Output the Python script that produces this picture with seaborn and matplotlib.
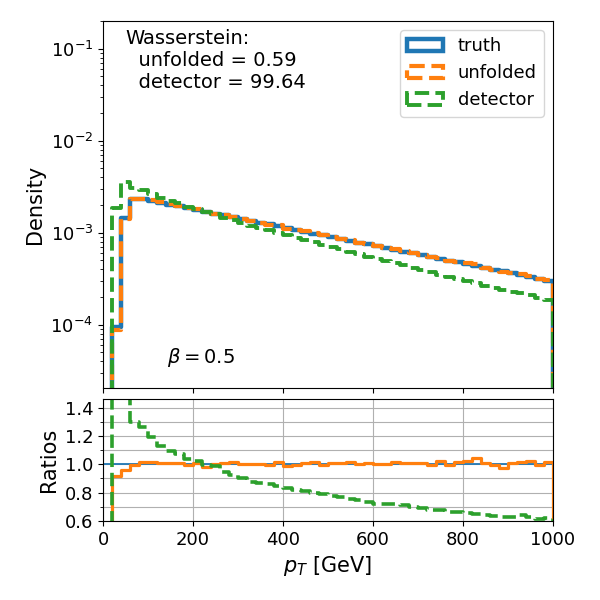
import numpy as np
import pandas as pd
import seaborn as sns
import matplotlib
matplotlib.use("Agg")
import matplotlib.pyplot as plt
from matplotlib.patches import Patch
from matplotlib.ticker import MultipleLocator

# 50 bins of 20 GeV in pT, plus one empty bin past 1000 so the step closes
bin_edges = np.linspace(0, 1020, 52)
bin_centers = 0.5 * (bin_edges[:-1] + bin_edges[1:])

# truth density per bin
truth = [0.0, 9.5e-5, 1.45e-3, 2.35e-3, 2.30e-3, 2.22e-3, 2.12e-3, 2.02e-3, 1.94e-3, 1.85e-3,
         1.77e-3, 1.69e-3, 1.61e-3, 1.54e-3, 1.47e-3, 1.41e-3, 1.35e-3, 1.29e-3, 1.23e-3, 1.18e-3,
         1.12e-3, 1.07e-3, 1.03e-3, 9.8e-4, 9.4e-4, 8.95e-4, 8.55e-4, 8.18e-4, 7.82e-4, 7.47e-4,
         7.14e-4, 6.82e-4, 6.52e-4, 6.23e-4, 5.96e-4, 5.69e-4, 5.44e-4, 5.20e-4, 4.97e-4, 4.75e-4,
         4.54e-4, 4.34e-4, 4.15e-4, 3.96e-4, 3.79e-4, 3.62e-4, 3.46e-4, 3.31e-4, 3.16e-4, 3.02e-4]

# unfolded / truth and detector / truth
unfolded_ratio = [0.0, 0.915, 0.96, 0.995, 1.018, 1.016, 1.012, 1.012, 1.012, 0.993,
                  1.012, 0.984, 1.0, 1.007, 1.016, 1.0, 1.0, 1.0, 0.993, 1.016,
                  0.988, 0.995, 1.007, 1.016, 0.995, 1.012, 1.007, 1.018, 1.0, 1.012,
                  1.0, 1.0, 1.018, 1.012, 1.012, 1.007, 0.995, 1.023, 0.995, 1.016,
                  1.023, 1.046, 1.007, 0.995, 0.975, 1.007, 1.018, 1.023, 0.995, 1.016]
detector_ratio = [0.0, 19.6, 2.48, 1.30, 1.26, 1.19, 1.13, 1.09, 1.075, 1.04,
                  1.025, 0.995, 0.99, 0.945, 0.925, 0.903, 0.875, 0.87, 0.86, 0.845,
                  0.835, 0.82, 0.81, 0.80, 0.79, 0.775, 0.77, 0.757, 0.75, 0.735,
                  0.723, 0.72, 0.722, 0.71, 0.70, 0.69, 0.68, 0.675, 0.665, 0.665,
                  0.658, 0.65, 0.642, 0.635, 0.63, 0.63, 0.642, 0.63, 0.612, 0.62]
truth_ratio = np.ones(len(truth))

unfolded = np.array(truth) * np.array(unfolded_ratio)
detector = np.array(truth) * np.array(detector_ratio)

w_unfolded = 0.59
w_detector = 99.64
beta = 0.5

colors = {"truth": "#1f77b4", "unfolded": "#ff7f0e", "detector": "#2ca02c"}


def step_hist(ax, values, color, lw, ls):
    df = pd.DataFrame({"pt": bin_centers, "w": np.append(values, 0.0)})
    sns.histplot(data=df, x="pt", weights="w", bins=list(bin_edges), stat="count",
                 element="step", fill=False, color=color, linewidth=lw,
                 linestyle=ls, ax=ax)


fig = plt.figure(figsize=(6, 6), dpi=100)
ax1 = fig.add_axes([0.1717, 0.3533, 0.75, 0.6117])
ax2 = fig.add_axes([0.1717, 0.1317, 0.75, 0.2033])

step_hist(ax1, truth, colors["truth"], 3.2, "-")
step_hist(ax1, unfolded, colors["unfolded"], 3.0, "--")
step_hist(ax1, detector, colors["detector"], 2.8, "--")
ax1.set_yscale("log")
ax1.set_ylim(2.05e-5, 0.2)
ax1.set_xlim(0, 1000)
ax1.set_xticks(range(0, 1001, 200))
ax1.tick_params(labelbottom=False, labelsize=13)
ax1.set_xlabel("")
ax1.set_ylabel("Density", fontsize=15)

ax1.text(0.05, 0.978, "Wasserstein:\n  unfolded = {:.2f}\n  detector = {:.2f}".format(w_unfolded, w_detector),
         transform=ax1.transAxes, va="top", ha="left", fontsize=14)
ax1.text(0.142, 0.082, r"$\beta = {}$".format(beta), transform=ax1.transAxes,
         va="center", ha="left", fontsize=14)

handles = [Patch(facecolor="none", edgecolor=colors["truth"], linewidth=3.2, linestyle="-"),
           Patch(facecolor="none", edgecolor=colors["unfolded"], linewidth=3.0, linestyle="--"),
           Patch(facecolor="none", edgecolor=colors["detector"], linewidth=2.8, linestyle="--")]
ax1.legend(handles, ["truth", "unfolded", "detector"], loc="upper right", fontsize=13)

step_hist(ax2, truth_ratio, colors["truth"], 1.3, "-")
step_hist(ax2, unfolded_ratio, colors["unfolded"], 2.3, "-")
step_hist(ax2, detector_ratio, colors["detector"], 2.6, "--")
ax2.set_xlim(0, 1000)
ax2.set_ylim(0.6, 1.46)
ax2.set_xticks(range(0, 1001, 200))
ax2.yaxis.set_major_locator(MultipleLocator(0.2))
ax2.yaxis.set_minor_locator(MultipleLocator(0.1))
ax2.grid(True, which="both", color="#b0b0b0", linewidth=0.8)
ax2.set_axisbelow(True)
ax2.tick_params(labelsize=13)
ax2.set_xlabel(r"$p_T$ [GeV]", fontsize=15)
ax2.set_ylabel("Ratios", fontsize=15)

plt.savefig("out.png")
